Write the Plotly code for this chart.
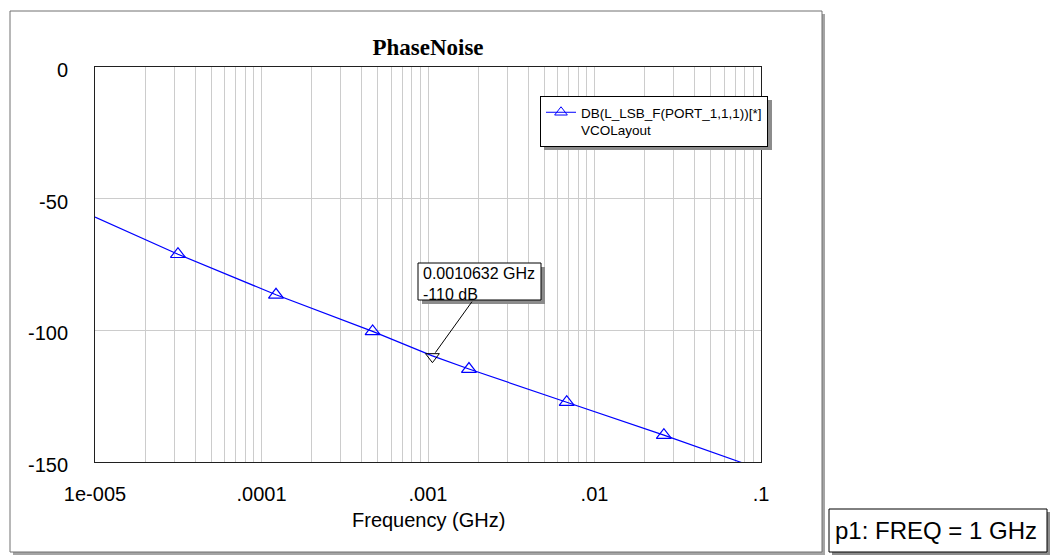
import math
import plotly.graph_objects as go

# ---- data ----
curve_freq_ghz = [1e-5, 3.15e-5, 1.222e-4, 4.65e-4, 1.0632e-3, 1.762e-3, 6.81e-3, 2.61e-2, 7.48e-2, 0.1]
curve_db = [-57.0, -71.1, -86.5, -100.4, -109.7, -114.7, -127.3, -139.8, -150.0, -152.8]

symbol_freq_ghz = [3.15e-5, 1.222e-4, 4.65e-4, 1.762e-3, 6.81e-3, 2.61e-2]
symbol_db = [-71.1, -86.5, -100.4, -114.7, -127.3, -139.8]

marker_freq_ghz = [0.0010632]
marker_db = [-110.0]

x_decades = [1e-5, 1e-4, 1e-3, 1e-2, 1e-1]
x_decade_labels = ["1e-005", ".0001", ".001", ".01", ".1"]
x_minor_mult = [1, 2, 3, 4, 5, 6, 7, 8, 9]

y_ticks = [0, -50, -100, -150]
y_tick_labels = ["0", "-50", "-100", "-150"]

trace_name = "DB(L_LSB_F(PORT_1,1,1))[*]<br>VCOLayout"
title_text = "PhaseNoise"
x_title = "Frequency (GHz)"
port_note = "p1: FREQ = 1 GHz"

# ---- layout geometry ----
W, H = 1052, 560
L, R, T, B = 95, 761, 67, 462  # plot area in pixels


def px(x):
    return (x - L) / (R - L)


def py(y):
    return (B - y) / (B - T)


grid_vals, grid_text = [], []
for i, d in enumerate(x_decades):
    for m in x_minor_mult:
        v = d * m
        if v > x_decades[-1] * 1.0001:
            continue
        grid_vals.append(v)
        grid_text.append(x_decade_labels[i] if m == 1 else "")

BLUE = "#0000ff"
FONT = "Liberation Sans"

fig = go.Figure()
fig.add_trace(go.Scatter(x=curve_freq_ghz, y=curve_db, mode="lines",
                         line=dict(color=BLUE, width=1.2), showlegend=False, hoverinfo="skip"))
fig.add_trace(go.Scatter(x=symbol_freq_ghz, y=symbol_db, mode="markers",
                         marker=dict(symbol="triangle-up-open", size=13, color=BLUE,
                                     line=dict(width=1.2, color=BLUE)),
                         showlegend=False, hoverinfo="skip"))
fig.add_trace(go.Scatter(x=marker_freq_ghz, y=marker_db, mode="markers",
                         marker=dict(symbol="triangle-down-open", size=12, color="black",
                                     line=dict(width=1, color="black")),
                         showlegend=False, hoverinfo="skip"))
fig.add_trace(go.Scatter(x=[None], y=[None], mode="lines+markers", name=trace_name,
                         line=dict(color=BLUE, width=1),
                         marker=dict(symbol="triangle-up-open", size=11, color=BLUE,
                                     line=dict(width=1, color=BLUE))))


def rect(x0, y0, x1, y1, fill, line_color=None, layer="above"):
    return dict(type="rect", xref="paper", yref="paper",
                x0=px(x0), x1=px(x1), y0=py(y1), y1=py(y0),
                fillcolor=fill, layer=layer,
                line=dict(color=line_color or fill, width=1 if line_color else 0))


LEG_X0, LEG_Y0 = 540, 96

shapes = [
    rect(13, 14, 825, 555, "#a4a4a4", layer="below"),
    rect(10, 11, 822, 552, "white", "#707070", layer="below"),
    rect(LEG_X0 + 4, LEG_Y0 + 4, LEG_X0 + 232, LEG_Y0 + 54, "#8c8c8c"),
    rect(422, 267, 545, 304, "#8c8c8c"),
    rect(418, 263, 541, 300, "white", "black"),
    rect(832, 512, 1050, 555, "#8c8c8c"),
    rect(829, 509, 1047, 552, "white", "black"),
]

annotations = [
    dict(text=x_title, xref="paper", yref="paper", x=0.5, y=py(519.5),
         xanchor="center", yanchor="middle", showarrow=False,
         font=dict(family=FONT, size=20, color="black")),
    dict(text=f"{marker_freq_ghz[0]:.8g} GHz<br>{marker_db[0]:.0f} dB",
         xref="paper", yref="paper", x=px(421), y=py(283.5),
         xanchor="left", yanchor="middle", align="left", showarrow=False,
         font=dict(family=FONT, size=16, color="black")),
    dict(text=" ", xref="x", yref="y", x=math.log10(marker_freq_ghz[0]), y=marker_db[0],
         showarrow=True, arrowhead=0, arrowwidth=1, arrowcolor="black",
         ax=41, ay=-57, standoff=5, font=dict(size=1)),
    dict(text=port_note, xref="paper", yref="paper", x=px(936), y=py(530.5),
         xanchor="center", yanchor="middle", showarrow=False,
         font=dict(family=FONT, size=24, color="black")),
]

fig.update_layout(
    width=W, height=H,
    margin=dict(l=L, r=W - R, t=T, b=H - B, pad=0),
    paper_bgcolor="white", plot_bgcolor="white",
    title=dict(text=f"<b>{title_text}</b>", x=0.5, xref="paper", xanchor="center",
               y=1 - 47 / H, yref="container", yanchor="middle",
               font=dict(family="Liberation Serif", size=23, color="black")),
    showlegend=True,
    legend=dict(x=px(LEG_X0), y=py(LEG_Y0), xanchor="left", yanchor="top",
                bgcolor="white", bordercolor="black", borderwidth=1,
                font=dict(family=FONT, size=13.5, color="black"),
                valign="top", itemwidth=30, tracegroupgap=0),
    shapes=shapes,
    annotations=annotations,
    xaxis=dict(type="log", range=[-5, -1], tickmode="array",
               tickvals=grid_vals, ticktext=grid_text,
               showgrid=True, gridcolor="#cccccc", gridwidth=1,
               ticks="", ticklabelstandoff=14,
               tickfont=dict(family=FONT, size=20, color="black"),
               showline=True, mirror=True, linecolor="#202020", linewidth=1,
               zeroline=False),
    yaxis=dict(range=[-150, 0], tickmode="array",
               tickvals=y_ticks, ticktext=y_tick_labels,
               showgrid=True, gridcolor="#cccccc", gridwidth=1,
               ticks="", ticklabelstandoff=22, ticklabelshift=3,
               tickfont=dict(family=FONT, size=20, color="black"),
               showline=True, mirror=True, linecolor="#202020", linewidth=1,
               zeroline=False),
)

fig.write_html("out.html")
